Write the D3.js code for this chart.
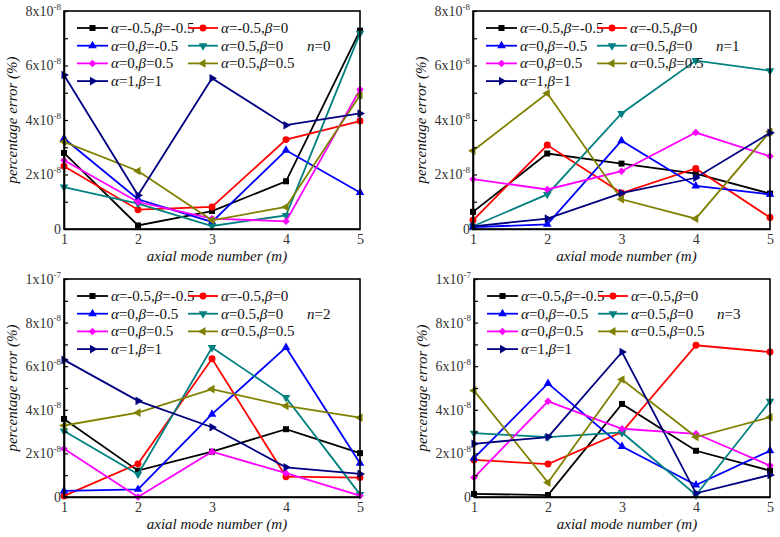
<!DOCTYPE html>
<html><head><meta charset="utf-8">
<script src="https://cdn.jsdelivr.net/npm/d3@7"></script>
<style>
body{margin:0;background:#fff}
svg{display:block;font-family:"Liberation Serif","DejaVu Serif",serif}
svg text{font-family:"Liberation Serif","DejaVu Serif",serif !important}
</style>
</head><body>
<svg id="c" width="780" height="537"></svg>
<script>
// ---------- data (values in units of 1e-8 %) ----------
const modes = [1, 2, 3, 4, 5];
const alphas = ["-0.5", "-0.5", "0", "0.5", "0", "0.5", "1"];
const betas  = ["-0.5", "0", "-0.5", "0", "0.5", "0.5", "1"];
const nLabels = ["0", "1", "2", "3"];

const errN0 = [
  [2.79, 0.13, 0.66, 1.75, 7.28],
  [2.30, 0.71, 0.81, 3.28, 3.96],
  [3.32, 1.09, 0.26, 2.89, 1.34],
  [1.54, 0.93, 0.11, 0.50, 7.18],
  [2.52, 0.99, 0.38, 0.28, 5.12],
  [3.20, 2.13, 0.32, 0.81, 4.91],
  [5.65, 1.24, 5.53, 3.81, 4.24]
];
const errN1 = [
  [0.63, 2.77, 2.40, 2.03, 1.30],
  [0.32, 3.08, 1.32, 2.22, 0.42],
  [0.07, 0.17, 3.24, 1.58, 1.27],
  [0.10, 1.27, 4.24, 6.18, 5.81],
  [1.83, 1.45, 2.12, 3.54, 2.67],
  [2.87, 4.98, 1.09, 0.38, 3.57],
  [0.10, 0.38, 1.32, 1.88, 3.53]
];
const errN2 = [
  [3.58, 1.21, 2.08, 3.11, 2.01],
  [0.05, 1.52, 6.34, 0.93, 0.89],
  [0.28, 0.35, 3.80, 6.86, 1.55],
  [3.03, 1.04, 6.86, 4.56, 0.12],
  [2.21, 0.00, 2.08, 1.09, 0.06],
  [3.28, 3.87, 4.95, 4.18, 3.64],
  [6.29, 4.41, 3.20, 1.36, 1.06]
];
const errN3 = [
  [0.14, 0.09, 4.27, 2.12, 1.21],
  [1.70, 1.51, 2.98, 6.96, 6.65],
  [1.78, 5.21, 2.32, 0.55, 2.12],
  [2.93, 2.75, 2.96, 0.09, 4.39],
  [0.89, 4.39, 3.13, 2.90, 1.44],
  [4.88, 0.66, 5.39, 2.75, 3.66],
  [2.44, 2.75, 6.65, 0.17, 1.01]
];

const yTicksSmall = [0, 2, 4, 6, 8];
const yTickLabelsSmall = ["0", "2x10^-8", "4x10^-8", "6x10^-8", "8x10^-8"];
const yMinorSmall = [1, 3, 5, 7];
const yTicksLarge = [0, 2, 4, 6, 8, 10];
const yTickLabelsLarge = ["0", "2x10^-8", "4x10^-8", "6x10^-8", "8x10^-8", "1x10^-7"];
const yMinorLarge = [1, 3, 5, 7, 9];

// ---------- styles ----------
const FONT = '"Liberation Serif","DejaVu Serif",serif';
const colors = ["#000000", "#ff0000", "#0000ff", "#008080", "#ff00ff", "#808000", "#000080"];
const shapes = ["square", "circle", "up", "down", "diamond", "left", "right"];

const panels = [
  {data: errN0, n: nLabels[0], ticks: yTicksSmall, labels: yTickLabelsSmall, minor: yMinorSmall, max: 8,  l: 64,  r: 360, t: 11,  b: 229},
  {data: errN1, n: nLabels[1], ticks: yTicksSmall, labels: yTickLabelsSmall, minor: yMinorSmall, max: 8,  l: 473, r: 770, t: 11,  b: 229},
  {data: errN2, n: nLabels[2], ticks: yTicksLarge, labels: yTickLabelsLarge, minor: yMinorLarge, max: 10, l: 64,  r: 360, t: 279, b: 497},
  {data: errN3, n: nLabels[3], ticks: yTicksLarge, labels: yTickLabelsLarge, minor: yMinorLarge, max: 10, l: 474, r: 770, t: 279, b: 497}
];

const svg = d3.select("#c");

function symbolPath(shape) {
  let type = d3.symbolTriangle, size = 32, rot = 0;
  if (shape === "square") { type = d3.symbolSquare; size = 36; }
  else if (shape === "circle") { type = d3.symbolCircle; size = 38; }
  else if (shape === "diamond") { type = d3.symbolSquare; size = 28; rot = 45; }
  else if (shape === "down") rot = 180;
  else if (shape === "left") rot = -90;
  else if (shape === "right") rot = 90;
  return {d: d3.symbol().type(type).size(size)(), rot};
}

function drawMarker(g, shape, color, x, y) {
  const s = symbolPath(shape);
  g.append("path").attr("d", s.d)
    .attr("transform", `translate(${x},${y}) rotate(${s.rot})`)
    .attr("fill", color).attr("stroke", "none");
}

panels.forEach(p => {
  const W = p.r - p.l, H = p.b - p.t;
  const g = svg.append("g").attr("transform", `translate(${p.l},${p.t})`);
  const x = d3.scaleLinear().domain([1, 5]).range([0, W]);
  const y = d3.scaleLinear().domain([0, p.max]).range([H, 0]);

  // series
  p.data.forEach((vals, i) => {
    const pts = modes.map((m, k) => [m, vals[k]]);
    g.append("path").datum(pts)
      .attr("d", d3.line().x(d => x(d[0])).y(d => y(d[1])))
      .attr("fill", "none").attr("stroke", colors[i]).attr("stroke-width", 1.8)
      .attr("stroke-linejoin", "miter");
    pts.forEach(d => drawMarker(g, shapes[i], colors[i], x(d[0]), y(d[1])));
  });

  // frame
  g.append("rect").attr("x", 0).attr("y", 0).attr("width", W).attr("height", H)
    .attr("fill", "none").attr("stroke", "#000").attr("stroke-width", 1.6);

  // y axis major
  const ya = g.append("g").call(
    d3.axisLeft(y).tickValues(p.ticks).tickSizeInner(-4).tickSizeOuter(0).tickPadding(3).tickFormat((d, i) => p.labels[i])
  );
  ya.attr("font-family", FONT);
  ya.select(".domain").attr("stroke-width", 1.6);
  ya.selectAll(".tick line").attr("stroke-width", 1.2);
  ya.selectAll(".tick text").attr("font-size", 14).attr("fill", "#333")
    .each(function() {
      const t = d3.select(this);
      const s = t.text();
      if (s.indexOf("^") >= 0) {
        const [base, exp] = s.split("^");
        t.text(null);
        t.append("tspan").text(base);
        t.append("tspan").text(exp).attr("font-size", 9).attr("dy", "-0.7em");
      }
    });
  // y axis minor
  const ym = g.append("g").call(
    d3.axisLeft(y).tickValues(p.minor).tickSizeInner(-4).tickSizeOuter(0).tickFormat("")
  );
  ym.select(".domain").remove();
  ym.selectAll(".tick line").attr("stroke-width", 1.2);

  // x axis
  const xa = g.append("g").attr("transform", `translate(0,${H})`).call(
    d3.axisBottom(x).tickValues(modes).tickSize(0).tickPadding(5).tickFormat(d3.format("d"))
  );
  xa.attr("font-family", FONT);
  xa.select(".domain").attr("stroke-width", 1.6);
  xa.selectAll(".tick text").attr("font-size", 14).attr("fill", "#333");

  // axis titles
  g.append("text").attr("x", W / 2 + 5).attr("y", H + 32)
    .attr("text-anchor", "middle").attr("font-size", 15).attr("font-style", "italic").attr("fill", "#111")
    .text("axial mode number (m)");

  g.append("text").attr("transform", `translate(-50,${H / 2}) rotate(-90)`)
    .attr("text-anchor", "middle").attr("dominant-baseline", "middle")
    .attr("font-size", 15).attr("font-style", "italic").attr("fill", "#111")
    .text("percentage error (%)");

  // legend
  const rowY = [17, 34.7, 52.4, 70.1];
  const colLine = [[13, 44], [124, 154]];
  const colText = [47, 157];
  alphas.forEach((a, i) => {
    const c = i % 2, r = Math.floor(i / 2);
    const yy = rowY[r];
    g.append("line").attr("x1", colLine[c][0]).attr("x2", colLine[c][1])
      .attr("y1", yy).attr("y2", yy).attr("stroke", colors[i]).attr("stroke-width", 1.8);
    drawMarker(g, shapes[i], colors[i], (colLine[c][0] + colLine[c][1]) / 2, yy);
    const t = g.append("text").attr("x", colText[c]).attr("y", yy + 5)
      .attr("font-size", 15).attr("fill", "#111");
    t.append("tspan").attr("font-style", "italic").text("α");
    t.append("tspan").text("=" + a + ",");
    t.append("tspan").attr("font-style", "italic").text("β");
    t.append("tspan").text("=" + betas[i]);
  });

  const nt = g.append("text").attr("x", 243).attr("y", rowY[1] + 5).attr("font-size", 15).attr("fill", "#111");
  nt.append("tspan").attr("font-style", "italic").text("n");
  nt.append("tspan").text("=" + p.n);
});
</script>
</body></html>
